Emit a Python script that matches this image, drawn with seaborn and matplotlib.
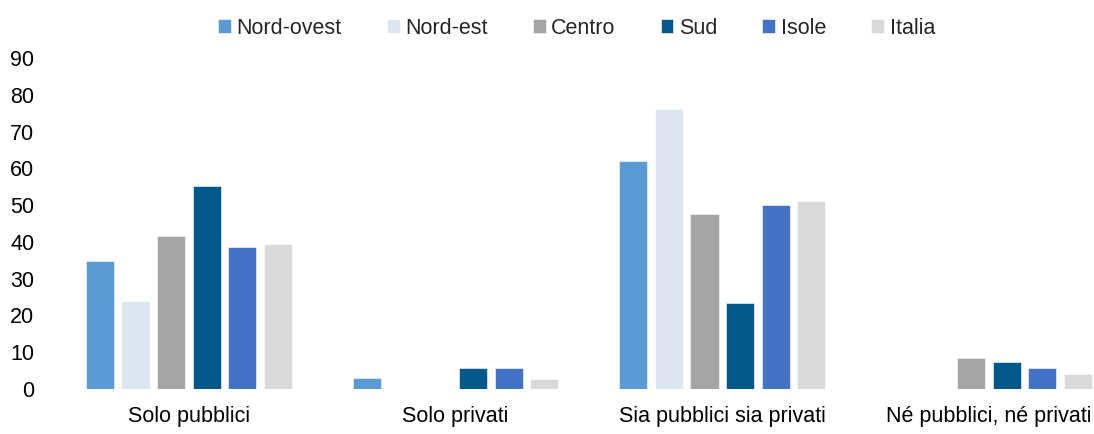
import pandas as pd
import matplotlib.pyplot as plt
import seaborn as sns

# Values (%)
categories = ["Solo pubblici", "Solo privati", "Sia pubblici sia privati", "Né pubblici, né privati"]
areas = ["Nord-ovest", "Nord-est", "Centro", "Sud", "Isole", "Italia"]
nord_ovest = [34.7, 2.9, 62.0, 0.0]
nord_est = [23.9, 0.0, 76.2, 0.0]
centro = [41.5, 0.0, 47.7, 8.5]
sud = [55.2, 5.7, 23.3, 7.3]
isole = [38.6, 5.7, 50.0, 5.7]
italia = [39.3, 2.8, 51.1, 4.1]
yticks = [0, 10, 20, 30, 40, 50, 60, 70, 80, 90]

colors = ["#5B9BD5", "#DCE6F2", "#A5A5A5", "#00598A", "#4472C4", "#D9D9D9"]

df = pd.DataFrame({"tipo": categories, "Nord-ovest": nord_ovest, "Nord-est": nord_est,
                   "Centro": centro, "Sud": sud, "Isole": isole, "Italia": italia})
df_long = df.melt(id_vars="tipo", var_name="area", value_name="valore")

sns.set_style("white")
plt.rcParams['font.family'] = ['Liberation Sans', 'DejaVu Sans']
fs = 15.5

fig = plt.figure(figsize=(10.94, 4.34), dpi=100)
ax = fig.add_axes([55 / 1094, 45 / 434, 1039 / 1094, 331 / 434])
sns.barplot(data=df_long, x="tipo", y="valore", hue="area", hue_order=areas,
            order=categories, palette=colors, saturation=1, width=0.8, gap=0.21,
            edgecolor="white", linewidth=0.4, ax=ax)

ax.set_xlim(-0.502, 3.394)
ax.set_ylim(0, 90)
ax.set_yticks(yticks)
ax.set_xlabel("")
ax.set_ylabel("")
sns.despine(ax=ax, left=True, bottom=True)
ax.tick_params(axis="y", length=0, pad=15, labelsize=fs, colors="black")
ax.tick_params(axis="x", length=0, pad=12.5, labelsize=fs, colors="black")

ax.legend(loc="center", bbox_to_anchor=(0.527, 1 - 28 / 434), bbox_transform=fig.transFigure,
          ncol=6, frameon=False, fontsize=fs, handlelength=0.6, handleheight=0.6,
          handletextpad=0.25, columnspacing=2.1, borderpad=0)

fig.savefig("out.png", dpi=100)
